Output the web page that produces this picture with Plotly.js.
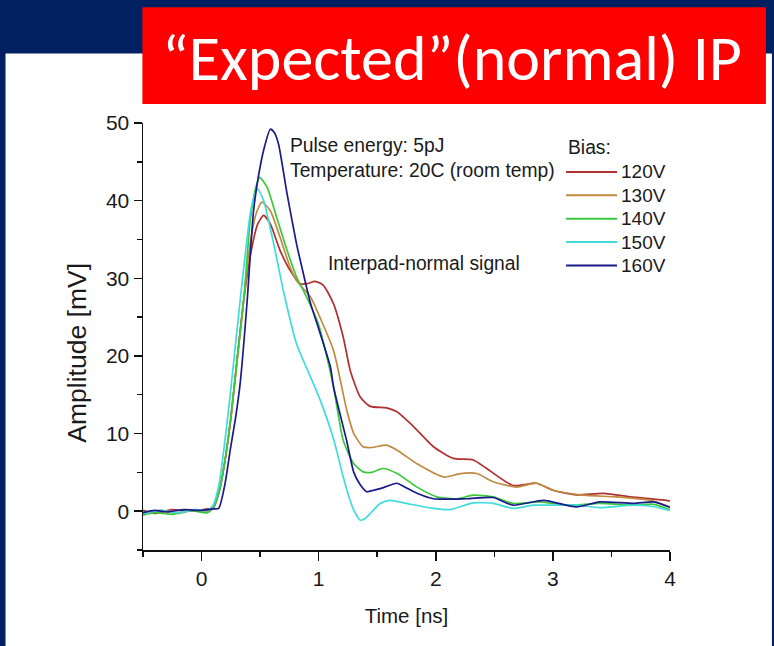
<!DOCTYPE html>
<html>
<head>
<meta charset="utf-8">
<script src="https://cdn.plot.ly/plotly-3.0.1.min.js"></script>
<style>
html,body{margin:0;padding:0;background:#002060;}
#chart{width:774px;height:646px;}
</style>
</head>
<body>
<div id="chart"></div>
<script>
// ---------- data ----------
const seriesNames = ["120V", "130V", "140V", "150V", "160V"];
const seriesColors = ["#B03030", "#C08A40", "#3CC83C", "#40DCDC", "#1A1A8A"];

const t120 = [-0.5,-0.4,-0.25,-0.1,0.05,0.1,0.15,0.2,0.25,0.3,0.36,0.43,0.48,0.53,0.587,0.67,0.757,0.843,0.9,0.97,1.04,1.127,1.21,1.27,1.355,1.44,1.58,1.668,1.81,1.98,2.15,2.32,2.435,2.66,2.86,3.0,3.2,3.43,3.69,3.97,4.0];
const v120 = [0.1,-0.3,0.2,0.0,0.3,0.4,2.5,6.5,12,19,27.2,34,37,38.1,37.0,33.6,31.0,29.3,29.3,29.6,29.1,26.7,22.4,18.1,14.7,13.5,13.3,12.8,10.9,8.3,6.8,6.6,5.5,3.3,3.6,2.7,2.1,2.3,1.8,1.4,1.3];

const t130 = [-0.5,-0.35,-0.2,-0.05,0.05,0.1,0.15,0.2,0.25,0.3,0.36,0.42,0.47,0.516,0.587,0.67,0.757,0.81,0.843,0.93,1.01,1.127,1.24,1.30,1.38,1.45,1.58,1.67,1.84,2.07,2.21,2.35,2.49,2.69,2.86,3.0,3.26,3.54,3.83,4.0];
const v130 = [-0.2,0.1,-0.3,0.2,0.0,0.5,2.5,6.5,12,19,27.2,35,38.5,39.8,38.7,35.3,31.4,29.7,29.1,27.6,25.0,20.7,13.0,10.0,8.3,8.2,8.5,7.85,6.1,4.4,4.85,4.85,3.8,3.1,3.6,2.7,2.06,1.84,1.4,0.55];

const t140 = [-0.5,-0.4,-0.25,-0.1,0.05,0.1,0.15,0.2,0.25,0.3,0.36,0.416,0.46,0.495,0.56,0.64,0.73,0.81,0.87,0.93,1.0,1.06,1.127,1.21,1.30,1.38,1.45,1.55,1.67,1.84,2.01,2.18,2.32,2.49,2.66,2.89,3.12,3.4,3.69,3.85,4.0];
const v140 = [-0.5,-0.2,-0.4,0.1,-0.2,0.5,2.5,6.5,12,19,27.2,37.5,41.5,43.0,41.7,37.9,33.6,30.2,28.4,26.5,24.0,20.5,16.0,9.1,6.1,5.06,5.0,5.5,4.85,3.1,1.84,1.6,2.06,1.84,1.0,1.2,0.77,1.0,0.77,0.9,0.2];

const t150 = [-0.5,-0.35,-0.2,-0.05,0.05,0.1,0.15,0.19,0.23,0.27,0.33,0.38,0.42,0.46,0.48,0.53,0.615,0.70,0.81,0.93,1.013,1.127,1.21,1.27,1.30,1.355,1.40,1.44,1.525,1.61,1.75,1.98,2.12,2.32,2.49,2.66,2.83,3.0,3.2,3.4,3.69,3.85,4.0];
const v150 = [-0.3,0.1,-0.2,0.2,0.1,0.8,3.5,7.9,13,18.6,27.2,34,38.7,41,41.5,40.0,34.5,28.3,21.6,17.3,14.3,9.3,4.4,1.3,0.13,-1.16,-0.9,-0.3,1.0,1.4,1.0,0.35,0.2,1.07,1.0,0.35,0.77,0.77,0.77,0.47,0.77,0.6,0.1];

const t160 = [-0.5,-0.4,-0.3,-0.15,0,0.1,0.146,0.2,0.245,0.29,0.33,0.39,0.444,0.49,0.53,0.587,0.62,0.657,0.73,0.81,0.843,0.93,1.0,1.10,1.127,1.24,1.30,1.355,1.41,1.47,1.525,1.6,1.668,1.75,1.84,1.98,2.26,2.49,2.66,2.92,3.2,3.4,3.69,3.86,4.0];
const v160 = [-0.2,0.1,-0.1,0.2,0.1,0.3,0.35,3.5,7.9,12,16.5,27.2,38.7,43.5,46.5,49.2,48.8,47.3,40.9,34.5,32.3,26.8,23.5,18.6,16.0,9.0,5.0,3.4,2.5,2.7,2.9,3.3,3.6,3.0,2.3,1.6,1.6,1.76,0.77,1.4,0.55,1.2,1.0,1.2,0.5];

const xTickVals = [0, 1, 2, 3, 4];
const yTickVals = [0, 10, 20, 30, 40, 50];

const chartTitle = "“Expected”(normal) IP";
const xTitle = "Time [ns]";
const yTitle = "Amplitude [mV]";
const noteLines = ["Pulse energy: 5pJ", "Temperature: 20C (room temp)"];
const noteSignal = "Interpad-normal signal";
const legendTitle = "Bias:";

// ---------- layout geometry (pixels) ----------
const W = 774, Hh = 646;
const L = 142.6, R = 670, T = 122.5, B = 550;
const PW = R - L, PH = B - T;
const px = p => (p - L) / PW;
const py = p => (B - p) / PH;

const xs = [t120, t130, t140, t150, t160];
const ys = [v120, v130, v140, v150, v160];

const traces = seriesNames.map((n, i) => ({
  type: "scatter", mode: "lines", name: n, showlegend: false,
  x: xs[i], y: ys[i],
  line: {color: seriesColors[i], width: 1.7, shape: "spline", smoothing: 0.6}
}));

const FAM = "Liberation Sans, Arial, sans-serif";
const txtFont = {family: FAM, size: 19.3, color: "#1a1a1a"};

// legend drawn as key lines + labels
const legY0 = 171.5, legStep = 23.4;
const legendShapes = seriesNames.map((n, i) => ({
  type: "line", xref: "paper", yref: "paper", layer: "above",
  x0: px(566), x1: px(617), y0: py(legY0 + i * legStep), y1: py(legY0 + i * legStep),
  line: {color: seriesColors[i], width: 2}
}));
const legendLabels = seriesNames.map((n, i) => ({
  xref: "paper", yref: "paper", x: px(619), y: py(legY0 + i * legStep),
  xanchor: "left", yanchor: "middle", text: n, showarrow: false,
  font: {family: FAM, size: 19, color: "#1a1a1a"}
}));

const layout = {
  width: W, height: Hh,
  paper_bgcolor: "#002060",
  plot_bgcolor: "#ffffff",
  margin: {l: L, r: W - R, t: T, b: Hh - B, pad: 0},
  showlegend: false,
  xaxis: {
    range: [-0.5, 4], tickvals: xTickVals, ticktext: xTickVals.map(String),
    ticks: "outside", ticklen: 9, tickwidth: 1.5, tickcolor: "#111",
    minor: {dtick: 0.5, tick0: 0, ticks: "outside", ticklen: 5, tickwidth: 1.5, tickcolor: "#111"},
    showline: true, linecolor: "#111", linewidth: 1.5,
    showgrid: false, zeroline: false,
    tickfont: {family: FAM, size: 21, color: "#1a1a1a"},
    title: {text: xTitle, standoff: 20, font: {family: FAM, size: 20.5, color: "#1a1a1a"}}
  },
  yaxis: {
    range: [-5, 50], tickvals: yTickVals, ticktext: yTickVals.map(String),
    ticks: "outside", ticklen: 8, tickwidth: 1.5, tickcolor: "#111",
    minor: {dtick: 5, tick0: 0, ticks: "outside", ticklen: 5, tickwidth: 1.5, tickcolor: "#111"},
    showline: true, linecolor: "#111", linewidth: 1.5,
    showgrid: false, zeroline: false,
    tickfont: {family: FAM, size: 21, color: "#1a1a1a"}
  },
  shapes: [
    {type: "rect", xref: "paper", yref: "paper", layer: "below",
     x0: px(5), x1: px(772), y0: py(646), y1: py(53),
     fillcolor: "#ffffff", line: {width: 0}},
    {type: "rect", xref: "paper", yref: "paper", layer: "above",
     x0: px(142), x1: px(766), y0: py(103.5), y1: py(6.5),
     fillcolor: "#ff0000", line: {width: 0}}
  ].concat(legendShapes),
  annotations: [
    {xref: "paper", yref: "paper", x: px(452), y: py(57), xanchor: "center", yanchor: "middle",
     text: chartTitle, showarrow: false,
     font: {family: "Carlito, Lato, sans-serif", size: 64, color: "#ffffff"}},
    {xref: "paper", yref: "paper", x: px(77), y: py(352), xanchor: "center", yanchor: "middle",
     text: yTitle, textangle: -90, showarrow: false,
     font: {family: FAM, size: 26.5, color: "#1a1a1a"}},
    {xref: "paper", yref: "paper", x: px(288), y: py(145), xanchor: "left", yanchor: "middle",
     text: noteLines[0], showarrow: false, font: txtFont},
    {xref: "paper", yref: "paper", x: px(288), y: py(170), xanchor: "left", yanchor: "middle",
     text: noteLines[1], showarrow: false, font: txtFont},
    {xref: "paper", yref: "paper", x: px(326), y: py(263), xanchor: "left", yanchor: "middle",
     text: noteSignal, showarrow: false, font: txtFont},
    {xref: "paper", yref: "paper", x: px(566), y: py(147), xanchor: "left", yanchor: "middle",
     text: legendTitle, showarrow: false, font: txtFont}
  ].concat(legendLabels)
};

Plotly.newPlot("chart", traces, layout, {displayModeBar: false, staticPlot: true});
</script>
</body>
</html>
